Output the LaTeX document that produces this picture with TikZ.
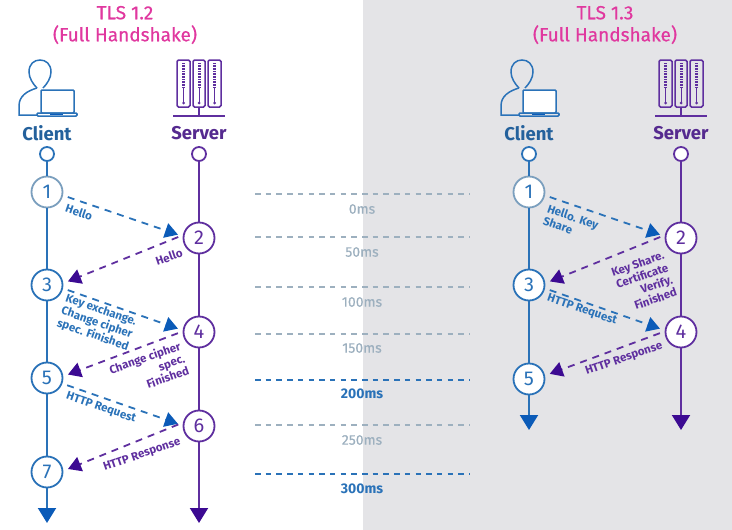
\documentclass[tikz,border=0pt]{standalone}
\usepackage{fontspec}
\setmainfont{Fira Sans}
\newfontfamily\titlefont[FakeBold=0.5]{Fira Sans}
\usetikzlibrary{arrows.meta, calc, shapes.geometric}

\definecolor{clientblue}{HTML}{2A72B8}
\definecolor{clienttip}{HTML}{0B5BB8}
\definecolor{clientpale}{HTML}{7B9FBE}
\definecolor{serverpurple}{HTML}{5F2F9F}
\definecolor{servertip}{HTML}{3C0A92}
\definecolor{titlepink}{HTML}{E0389F}
\definecolor{timegray}{HTML}{9DB0BF}
\definecolor{panelgray}{HTML}{E4E4E7}

\tikzset{
  titletext/.style={text=titlepink, font=\titlefont\fontsize{19}{22}\selectfont, align=center, inner sep=0pt},
  clientname/.style={text=clientblue!85!black, font=\fontsize{18.5}{20}\selectfont\bfseries, inner sep=0pt},
  servername/.style={text=serverpurple!90!black, font=\fontsize{18.5}{20}\selectfont\bfseries, inner sep=0pt},
  clientstate/.style={circle, draw=clientblue, line width=1.8pt, fill=white, minimum size=31pt, inner sep=0pt, text=clientblue, font=\fontsize{20}{20}\selectfont},
  serverstate/.style={circle, draw=serverpurple, line width=1.8pt, fill=white, minimum size=31pt, inner sep=0pt, text=serverpurple, font=\fontsize{20}{20}\selectfont},
  clientdot/.style={circle, draw=clientblue, line width=1.8pt, fill=white, minimum size=14pt, inner sep=0pt},
  serverdot/.style={circle, draw=serverpurple, line width=1.8pt, fill=white, minimum size=14pt, inner sep=0pt},
  clientlife/.style={draw=clientblue, line width=2pt},
  serverlife/.style={draw=serverpurple, line width=2pt},
  clientend/.style={clientlife, -{Triangle[length=15pt, width=18pt, color=clienttip]}},
  serverend/.style={serverlife, -{Triangle[length=15pt, width=18pt, color=servertip]}},
  clientmsg/.style={draw=clientblue, line width=1.8pt, dash pattern=on 7pt off 6pt, shorten <=5pt, shorten >=5pt, -{Triangle[length=13pt, width=15pt, color=clienttip]}},
  servermsg/.style={draw=serverpurple, line width=1.8pt, dash pattern=on 7pt off 6pt, shorten <=5pt, shorten >=5pt, -{Triangle[length=13pt, width=15pt, color=servertip]}},
  clientlabel/.style={text=clientblue, font=\fontsize{11.5}{13}\selectfont\bfseries, rotate=-19, inner sep=0pt},
  serverlabel/.style={text=serverpurple, font=\fontsize{11.5}{13}\selectfont\bfseries, rotate=19, inner sep=0pt},
  timelabel/.style={text=timegray, font=\titlefont\fontsize{14}{16}\selectfont, inner sep=0pt},
  timemark/.style={text=clientblue, font=\fontsize{14}{16}\selectfont\bfseries, inner sep=0pt},
  timeline/.style={draw=timegray, line width=1.4pt, dash pattern=on 5.5pt off 5.2pt},
  timestrong/.style={draw=clientblue, line width=1.6pt, dash pattern=on 5.5pt off 5.2pt},
  clienticon/.pic={
    \draw[clientblue, line width=1.5pt] (-10,28) .. controls (-14,32) and (-18,38) .. (-18,44) .. controls (-18,52) and (-13,56) .. (-7,56) .. controls (-1,56) and (4,52) .. (4,44) .. controls (4,38) and (0,32) .. (-4,28);
    \draw[clientblue, line width=1.5pt] (-10,28) .. controls (-20,25) and (-28,20) .. (-28,10) -- (-28,1) -- (-10,1);
    \draw[clientblue, line width=1.5pt, fill=white, rounded corners=1pt] (-6,3) rectangle (27,26);
    \draw[clientblue, line width=1.5pt, rounded corners=1pt] (-10,0) rectangle (30,3);
    \draw[clienttip, line width=1.2pt] (3,1.5) -- (16,1.5);
  },
  servericon/.pic={
    \draw[serverpurple, line width=1.5pt, rounded corners=1.5pt] (-22,9) rectangle (-9,56);
    \draw[serverpurple, line width=1.5pt, rounded corners=1.5pt] (-6,9) rectangle (6,56);
    \draw[serverpurple, line width=1.5pt, rounded corners=1.5pt] (9,9) rectangle (22,56);
    \draw[serverpurple, line width=3pt, dash pattern=on 0.8pt off 0.8pt] (-15.5,53) -- (-15.5,28);
    \draw[serverpurple, line width=3pt, dash pattern=on 0.8pt off 0.8pt] (0,53) -- (0,28);
    \draw[serverpurple, line width=3pt, dash pattern=on 0.8pt off 0.8pt] (15.5,53) -- (15.5,28);
    \draw[serverpurple, line width=0.8pt] (-15.5,28) -- (-15.5,14);
    \draw[serverpurple, line width=0.8pt] (0,28) -- (0,14);
    \draw[serverpurple, line width=0.8pt] (15.5,28) -- (15.5,14);
    \fill[serverpurple] (-15.5,13) circle (1.5) (0,13) circle (1.5) (15.5,13) circle (1.5);
    \draw[serverpurple, line width=1.5pt] (-26,0) -- (26,0);
    \draw[serverpurple, line width=1.5pt] (0,9) -- (0,0);
  },
}

\begin{document}
\begin{tikzpicture}[x=1pt, y=1pt]
	\useasboundingbox (0,0) rectangle (732,-530);
	\fill[panelgray] (363,0) rectangle (732,-530);

	% TLS 1.2
	\node (TitleOld) at (125,-25) [titletext]{TLS 1.2\\(Full Handshake)};
	\pic at (47,-116) {clienticon};
	\pic at (199,-116) {servericon};
	\node (ClientOld) at (47,-133) [clientname]{Client};
	\node (ServerOld) at (199,-133) [servername]{Server};

	\node (ClientTopOld) at (47,-154) [clientdot]{};
	\node (ServerTopOld) at (199,-154) [serverdot]{};
	\node (ClientOne) at (47,-192) [clientstate, draw=clientpale]{1};
	\node (ServerTwo) at (199,-238) [serverstate]{2};
	\node (ClientThree) at (47,-285) [clientstate]{3};
	\node (ServerFour) at (199,-332) [serverstate]{4};
	\node (ClientFive) at (47,-378) [clientstate]{5};
	\node (ServerSix) at (199,-426) [serverstate]{6};
	\node (ClientSeven) at (47,-472) [clientstate]{7};
	\coordinate (ClientEndOld) at (47,-523);
	\coordinate (ServerEndOld) at (199,-523);

	\draw[clientlife] (ClientTopOld) -- (ClientOne);
	\draw[clientlife] (ClientOne) -- (ClientThree);
	\draw[clientlife] (ClientThree) -- (ClientFive);
	\draw[clientlife] (ClientFive) -- (ClientSeven);
	\draw[clientend] (ClientSeven) -- (ClientEndOld);
	\draw[serverlife] (ServerTopOld) -- (ServerTwo);
	\draw[serverlife] (ServerTwo) -- (ServerFour);
	\draw[serverlife] (ServerFour) -- (ServerSix);
	\draw[serverend] (ServerSix) -- (ServerEndOld);

	\draw[clientmsg] (ClientOne.-12) -- (ServerTwo.174);
	\draw[servermsg] (ServerTwo.170) -- (ClientThree.6);
	\draw[clientmsg] (ClientThree.-12) -- (ServerFour.174);
	\draw[servermsg] (ServerFour.178) -- (ClientFive.6);
	\draw[clientmsg] (ClientFive.-20) -- (ServerSix.178);
	\draw[servermsg] (ServerSix.168) -- (ClientSeven.4);

	\node (HelloClient) at (79,-212) [clientlabel]{Hello};
	\node (HelloServer) at (169,-257) [serverlabel]{Hello};
	\node (KeyExchange) at (97,-323) [clientlabel, align=left]{Key exchange.\\Change cipher\\spec. Finished};
	\node (ChangeCipher) at (149,-370) [serverlabel, align=right]{Change cipher\\spec.\\Finished};
	\node (RequestOld) at (101,-408) [clientlabel]{HTTP Request};
	\node (ResponseOld) at (142,-455) [serverlabel]{HTTP Response};

	% time scale
	\node (ZeroMs) at (362,-209) [timelabel]{0ms};
	\draw[timeline] ($(ZeroMs)+(-107,15)$) -- ($(ZeroMs)+(108,15)$);
	\node (FiftyMs) at (362,-252) [timelabel]{50ms};
	\draw[timeline] ($(FiftyMs)+(-107,15)$) -- ($(FiftyMs)+(108,15)$);
	\node (HundredMs) at (362,-302) [timelabel]{100ms};
	\draw[timeline] ($(HundredMs)+(-107,15)$) -- ($(HundredMs)+(108,15)$);
	\node (OneFiftyMs) at (362,-348) [timelabel]{150ms};
	\draw[timeline] ($(OneFiftyMs)+(-107,14)$) -- ($(OneFiftyMs)+(108,14)$);
	\node (TwoHundredMs) at (362,-394) [timemark]{200ms};
	\draw[timestrong] ($(TwoHundredMs)+(-107,14)$) -- ($(TwoHundredMs)+(108,14)$);
	\node (TwoFiftyMs) at (362,-440) [timelabel]{250ms};
	\draw[timeline] ($(TwoFiftyMs)+(-107,15)$) -- ($(TwoFiftyMs)+(108,15)$);
	\node (ThreeHundredMs) at (362,-489) [timemark]{300ms};
	\draw[timestrong] ($(ThreeHundredMs)+(-107,15)$) -- ($(ThreeHundredMs)+(108,15)$);

	% TLS 1.3
	\node (TitleNew) at (605,-25) [titletext]{TLS 1.3\\(Full Handshake)};
	\pic at (529,-116) {clienticon};
	\pic at (681,-116) {servericon};
	\node (ClientNew) at (529,-133) [clientname]{Client};
	\node (ServerNew) at (681,-133) [servername]{Server};

	\node (ClientTopNew) at (529,-154) [clientdot]{};
	\node (ServerTopNew) at (681,-154) [serverdot]{};
	\node (NewClientOne) at (529,-192) [clientstate, draw=clientpale]{1};
	\node (NewServerTwo) at (681,-238) [serverstate]{2};
	\node (NewClientThree) at (529,-285) [clientstate]{3};
	\node (NewServerFour) at (681,-332) [serverstate]{4};
	\node (NewClientFive) at (529,-379) [clientstate]{5};
	\coordinate (ClientEndNew) at (529,-430);
	\coordinate (ServerEndNew) at (681,-430);

	\draw[clientlife] (ClientTopNew) -- (NewClientOne);
	\draw[clientlife] (NewClientOne) -- (NewClientThree);
	\draw[clientlife] (NewClientThree) -- (NewClientFive);
	\draw[clientend] (NewClientFive) -- (ClientEndNew);
	\draw[serverlife] (ServerTopNew) -- (NewServerTwo);
	\draw[serverlife] (NewServerTwo) -- (NewServerFour);
	\draw[serverend] (NewServerFour) -- (ServerEndNew);

	\draw[clientmsg] (NewClientOne.-12) -- (NewServerTwo.174);
	\draw[servermsg] (NewServerTwo.170) -- (NewClientThree.6);
	\draw[clientmsg] (NewClientThree.-12) -- (NewServerFour.174);
	\draw[servermsg] (NewServerFour.178) -- (NewClientFive.12);

	\node (HelloKey) at (571,-223) [clientlabel, align=left]{Hello. Key\\Share};
	\node (KeyShare) at (644,-282) [serverlabel, align=right]{Key Share.\\Certificate\\Verify.\\Finished};
	\node (RequestNew) at (582,-310) [clientlabel]{HTTP Request};
	\node (ResponseNew) at (624,-359) [serverlabel]{HTTP Response};
\end{tikzpicture}
\end{document}
